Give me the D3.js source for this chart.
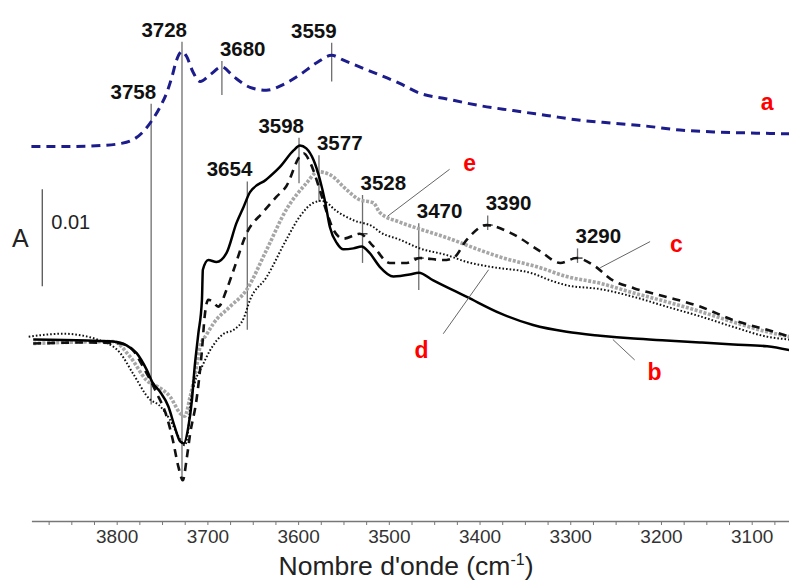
<!DOCTYPE html>
<html><head><meta charset="utf-8">
<script src="https://cdn.jsdelivr.net/npm/d3@7"></script>
<style>body{margin:0;background:#fff}svg{display:block}</style>
</head><body>
<svg id="chart" width="789" height="583"></svg>
<script>
// ---- data (wavenumber cm-1, absorbance) ----
const wnA = [3894,3855,3818,3796,3782,3771,3761,3752,3745,3739,3734,3728,3723,3716,3708,3697,3684,3671,3653,3635,3616,3598,3580,3563,3550,3524,3488,3466,3436,3399,3363,3326,3289,3253,3216,3179,3142,3105,3058];
const absA = [0.0199,0.0199,0.0200,0.0202,0.0206,0.0214,0.0226,0.0240,0.0254,0.0271,0.0288,0.0297,0.0292,0.0276,0.0266,0.0273,0.0281,0.0271,0.0260,0.0257,0.0263,0.0273,0.0285,0.0293,0.0288,0.0278,0.0264,0.0254,0.0248,0.0241,0.0236,0.0231,0.0226,0.0223,0.0220,0.0216,0.0214,0.0213,0.0212];

const wnB = [3892,3833,3804,3789,3778,3767,3760,3752,3743,3736,3730,3726,3721,3717,3714,3710,3706,3705,3699,3690,3679,3668,3660,3653,3635,3620,3605,3598,3591,3583,3576,3570,3565,3557,3550,3539,3530,3521,3510,3495,3477,3467,3451,3414,3377,3341,3304,3267,3230,3194,3157,3120,3083,3058];
const absB = [0.0000,-0.0001,-0.0002,-0.0006,-0.0014,-0.0031,-0.0045,-0.0054,-0.0069,-0.0090,-0.0105,-0.0107,-0.0090,-0.0062,-0.0028,0.0006,0.0041,0.0072,0.0082,0.0080,0.0089,0.0120,0.0137,0.0152,0.0165,0.0178,0.0195,0.0200,0.0197,0.0185,0.0165,0.0141,0.0116,0.0099,0.0093,0.0094,0.0096,0.0089,0.0075,0.0065,0.0067,0.0069,0.0061,0.0044,0.0027,0.0015,0.0008,0.0004,0.0001,-0.0001,-0.0003,-0.0005,-0.0007,-0.0011];

const wnC = [3892,3833,3796,3782,3771,3756,3745,3738,3732,3727,3723,3719,3712,3706,3703,3699,3694,3688,3679,3671,3657,3638,3624,3613,3598,3594,3587,3576,3568,3561,3550,3532,3517,3499,3480,3466,3440,3429,3414,3392,3366,3333,3311,3293,3275,3253,3230,3194,3157,3120,3083,3058];
const absC = [-0.0004,-0.0003,-0.0004,-0.0011,-0.0028,-0.0055,-0.0079,-0.0104,-0.0131,-0.0145,-0.0124,-0.0097,-0.0062,-0.0011,0.0024,0.0041,0.0039,0.0034,0.0051,0.0072,0.0109,0.0132,0.0147,0.0158,0.0189,0.0192,0.0183,0.0154,0.0130,0.0113,0.0104,0.0109,0.0096,0.0079,0.0079,0.0084,0.0082,0.0084,0.0103,0.0118,0.0110,0.0091,0.0079,0.0084,0.0077,0.0061,0.0053,0.0044,0.0034,0.0020,0.0010,0.0003];

const wnD = [3897,3859,3815,3796,3782,3763,3754,3741,3730,3725,3721,3719,3714,3706,3697,3682,3671,3660,3653,3635,3613,3598,3583,3574,3568,3561,3539,3517,3510,3488,3466,3436,3414,3388,3341,3322,3304,3267,3230,3194,3157,3120,3083,3058];
const absD = [0.0003,0.0006,-0.0002,-0.0014,-0.0035,-0.0062,-0.0067,-0.0083,-0.0103,-0.0109,-0.0093,-0.0069,-0.0045,-0.0028,-0.0011,0.0006,0.0010,0.0022,0.0041,0.0064,0.0103,0.0127,0.0141,0.0143,0.0141,0.0135,0.0123,0.0116,0.0111,0.0103,0.0094,0.0087,0.0080,0.0075,0.0068,0.0061,0.0056,0.0052,0.0044,0.0034,0.0024,0.0013,0.0003,0.0000];

const wnE = [3892,3804,3785,3767,3752,3741,3730,3725,3719,3712,3708,3701,3693,3675,3657,3635,3613,3591,3578,3565,3546,3532,3517,3510,3488,3466,3436,3399,3377,3333,3304,3267,3230,3194,3157,3120,3083,3058];
const absE = [-0.0004,-0.0002,-0.0018,-0.0042,-0.0050,-0.0059,-0.0076,-0.0079,-0.0059,-0.0028,-0.0007,0.0005,0.0017,0.0034,0.0051,0.0092,0.0134,0.0161,0.0173,0.0170,0.0154,0.0144,0.0141,0.0131,0.0121,0.0114,0.0105,0.0092,0.0085,0.0074,0.0065,0.0058,0.0048,0.0039,0.0029,0.0018,0.0008,0.0003];

// peak annotations: label, wavenumber position, top / bottom of marker (absorbance)
const peakLabels = ["3758","3728","3680","3559","3654","3598","3577","3528","3470","3390","3290"];
const peakPos    = [3762,3728,3684,3563,3656,3599,3577,3529,3467,3391,3292];
const peakTop    = [0.0243,0.0307,0.0287,0.0306,0.0163,0.0208,0.0190,0.0149,0.0120,0.0128,0.0094];
const peakBottom = [-0.0067,-0.0146,0.0252,0.0266,0.0010,0.0161,0.0142,0.0079,0.0051,0.0113,0.0079];
const peakSide   = ["L","L","R","L","L","L","R","R","R","R","R"];
// cross-bars on the dashed curve
const crossPos = [3529,3467,3391,3292];
const crossAbs = [0.0109,0.0084,0.0118,0.0084];

const xTicks = [3875,3850,3825,3800,3775,3750,3725,3700,3675,3650,3625,3600,3575,3550,3525,3500,3475,3450,3425,3400,3375,3350,3325,3300,3275,3250,3225,3200,3175,3150,3125,3100,3075];
const xTickLabels = ["3800","3700","3600","3500","3400","3300","3200","3100"];

// curve labels: name, label position (wn, abs), leader line (wn1, abs1, wn2, abs2)
const curveNames = ["a","b","c","d","e"];
const curveLabelWn = [3083,3207,3183,3464,3411];
const curveLabelAbs = [0.0245,-0.0033,0.0099,-0.0011,0.0182];
const leaderFrom = [null,[3253,0.0000],[3212,0.0101],[3440,0.0006],[3433,0.01755]];
const leaderTo   = [null,[3229,-0.0021],[3267,0.0074],[3390,0.0072],[3501,0.01274]];

// ---- drawing ----
const svg = d3.select("#chart");
const x = d3.scaleLinear().domain([3894, 3058]).range([31.4, 789.8]);
const y = d3.scaleLinear().domain([-0.0187, 0.0350]).range([521, 0]);

const line = d3.line().x(d => x(d[0])).y(d => y(d[1])).curve(d3.curveMonotoneX);
const zip = (a, b) => a.map((v, i) => [v, b[i]]);
const FONT = "Liberation Sans, Arial, sans-serif";

// annotation lines
const ann = svg.append("g");
peakLabels.forEach((lab, i) => {
  const px = x(peakPos[i]);
  ann.append("line").attr("x1", px).attr("x2", px)
    .attr("y1", y(peakTop[i])).attr("y2", y(peakBottom[i]))
    .attr("stroke", "#6e6e6e").attr("stroke-width", 1.3);
  ann.append("text").attr("x", peakSide[i] === "L" ? px + 5 : px - 2)
    .attr("y", y(peakTop[i]) - 5)
    .attr("text-anchor", peakSide[i] === "L" ? "end" : "start")
    .attr("font-family", FONT)
    .attr("font-weight", "bold").attr("font-size", 20.5).attr("fill", "#111")
    .text(lab);
});
crossPos.forEach((w, i) => {
  ann.append("line").attr("x1", x(w) - 5).attr("x2", x(w) + 5)
    .attr("y1", y(crossAbs[i])).attr("y2", y(crossAbs[i]))
    .attr("stroke", "#222").attr("stroke-width", 1.3);
});

// spectra
const g = svg.append("g").attr("fill", "none");
g.append("path").datum(zip(wnE, absE)).attr("d", line)
  .attr("stroke", "#a6a6a6").attr("stroke-width", 3.6).attr("stroke-dasharray", "3,1.6");
g.append("path").datum(zip(wnD, absD)).attr("d", line)
  .attr("stroke", "#111").attr("stroke-width", 2).attr("stroke-dasharray", "1.6,2");
g.append("path").datum(zip(wnC, absC)).attr("d", line)
  .attr("stroke", "#111").attr("stroke-width", 2.6).attr("stroke-dasharray", "8,6");
g.append("path").datum(zip(wnB, absB)).attr("d", line)
  .attr("stroke", "#000").attr("stroke-width", 2.5);
g.append("path").datum(zip(wnA, absA)).attr("d", line)
  .attr("stroke", "#1c1c8c").attr("stroke-width", 3).attr("stroke-dasharray", "9,6");

// curve labels + leaders
curveNames.forEach((n, i) => {
  if (leaderFrom[i]) {
    svg.append("line").attr("x1", x(leaderFrom[i][0])).attr("y1", y(leaderFrom[i][1]))
      .attr("x2", x(leaderTo[i][0])).attr("y2", y(leaderTo[i][1]))
      .attr("stroke", "#666").attr("stroke-width", 1);
  }
  svg.append("text").attr("x", x(curveLabelWn[i])).attr("y", y(curveLabelAbs[i]) + 8)
    .attr("text-anchor", "middle").attr("font-family", FONT)
    .attr("font-weight", "bold").attr("font-size", 23).attr("fill", "#ff0000").text(n);
});

// scale bar
const sb = svg.append("g");
sb.append("line").attr("x1", x(3882)).attr("x2", x(3882))
  .attr("y1", y(0.0055)).attr("y2", y(0.0155)).attr("stroke", "#555").attr("stroke-width", 1.3);
sb.append("text").attr("x", x(3882) - 22).attr("y", y(0.0105) + 9).attr("text-anchor", "middle")
  .attr("font-family", FONT).attr("font-size", 25).attr("fill", "#222").text("A");
sb.append("text").attr("x", x(3882) + 9).attr("y", y(0.0122) + 8)
  .attr("font-family", FONT).attr("font-size", 20).attr("fill", "#222").text("0.01");

// x axis
const ax = svg.append("g").attr("transform", "translate(0,521)")
  .call(d3.axisBottom(x).tickValues(xTicks).tickSizeInner(4).tickSizeOuter(0).tickPadding(5)
    .tickFormat(d => xTickLabels.includes(String(d)) ? String(d) : ""));
ax.select(".domain").attr("stroke", "#777").attr("stroke-width", 1.5);
ax.selectAll(".tick line").attr("stroke", "#777");
ax.selectAll(".tick text").attr("font-family", FONT)
  .attr("font-size", 19).attr("fill", "#333");

const title = svg.append("text").attr("x", 406).attr("y", 575).attr("text-anchor", "middle")
  .attr("font-family", FONT).attr("font-size", 26.5).attr("fill", "#222");
title.append("tspan").text("Nombre d'onde (cm");
title.append("tspan").attr("font-size", 16).attr("dy", -10).text("-1");
title.append("tspan").attr("dy", 10).text(")");
</script>
</body></html>
